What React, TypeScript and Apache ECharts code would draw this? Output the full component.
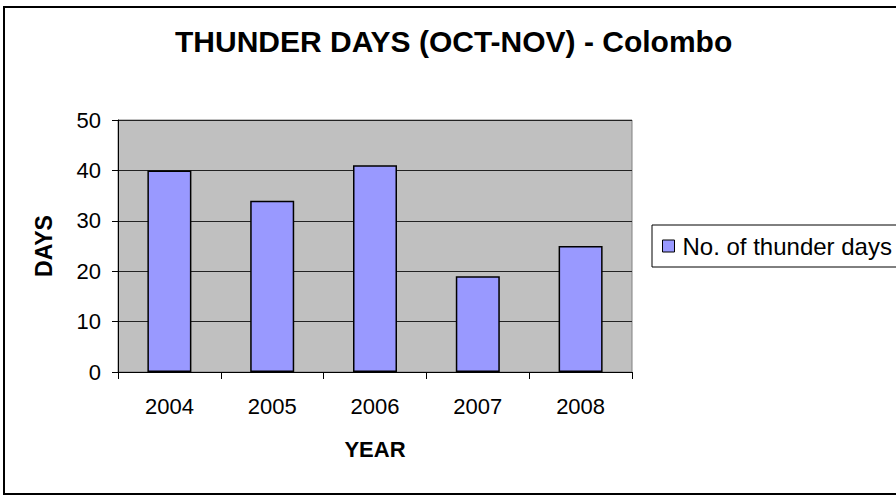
import React, { useEffect, useRef } from "react";
import * as echarts from "echarts";

const titleText = "THUNDER DAYS (OCT-NOV) - Colombo";
const years = ["2004", "2005", "2006", "2007", "2008"];
const thunderDays = [40, 34, 41, 19, 25];
const seriesName = "No. of thunder days";
const yAxisName = "DAYS";
const xAxisName = "YEAR";

const FONT = "'Liberation Sans', Arial, sans-serif";

export default function App() {
  const ref = useRef<HTMLDivElement>(null);
  useEffect(() => {
    document.body.style.margin = "0";
    if (!ref.current) return;
    const chart = echarts.init(ref.current, undefined, { renderer: "svg" });
    chart.setOption({
      animation: false,
      backgroundColor: "#ffffff",
      textStyle: { fontFamily: FONT, color: "#000" },
      title: {
        text: titleText,
        left: 175,
        top: 26,
        padding: 0,
        textStyle: { fontFamily: FONT, fontSize: 30, fontWeight: "bold", color: "#000" },
      },
      graphic: [
        {
          type: "rect",
          shape: { x: 4, y: 7, width: 920, height: 487 },
          style: { fill: "none", stroke: "#000", lineWidth: 2 },
          silent: true,
        },
      ],
      legend: {
        data: [seriesName],
        left: 652,
        top: 225,
        orient: "vertical",
        padding: [9, 60, 9, 10],
        borderColor: "#000",
        borderWidth: 1,
        itemWidth: 12,
        itemHeight: 12,
        icon: "rect",
        itemStyle: { color: "#9999ff", borderColor: "#000", borderWidth: 1 },
        textStyle: { fontFamily: FONT, fontSize: 24, color: "#000", lineHeight: 22, padding: [0, 0, 0, 3] },
      },
      grid: {
        left: 118,
        top: 120,
        width: 514,
        height: 252,
        show: true,
        backgroundColor: "#c0c0c0",
        borderColor: "#808080",
        borderWidth: 1,
        containLabel: false,
      },
      xAxis: {
        type: "category",
        data: years,
        name: xAxisName,
        nameLocation: "middle",
        nameGap: 66,
        nameTextStyle: { fontFamily: FONT, fontSize: 22, fontWeight: "bold", color: "#000" },
        axisLine: { show: true, lineStyle: { color: "#000", width: 1 } },
        axisTick: { show: true, length: 7, lineStyle: { color: "#000" }, alignWithLabel: false },
        axisLabel: { fontFamily: FONT, fontSize: 22, color: "#000", margin: 23 },
        splitLine: { show: false },
      },
      yAxis: {
        type: "value",
        min: 0,
        max: 50,
        interval: 10,
        name: yAxisName,
        nameLocation: "middle",
        nameGap: 63,
        nameRotate: 90,
        nameTextStyle: { fontFamily: FONT, fontSize: 23, fontWeight: "bold", color: "#000" },
        axisLine: { show: true, lineStyle: { color: "#000", width: 1 } },
        axisTick: { show: true, length: 6, lineStyle: { color: "#000" } },
        axisLabel: { fontFamily: FONT, fontSize: 22, color: "#000", margin: 17 },
        splitLine: { show: true, lineStyle: { color: "#222", width: 1 } },
      },
      series: [
        {
          name: seriesName,
          type: "bar",
          data: thunderDays,
          barWidth: 44,
          itemStyle: { color: "#9999ff", borderColor: "#000", borderWidth: 1.5 },
        },
      ],
    });
    return () => chart.dispose();
  }, []);
  return <div ref={ref} style={{ position: "absolute", left: 0, top: 0, width: 896, height: 496 }} />;
}
